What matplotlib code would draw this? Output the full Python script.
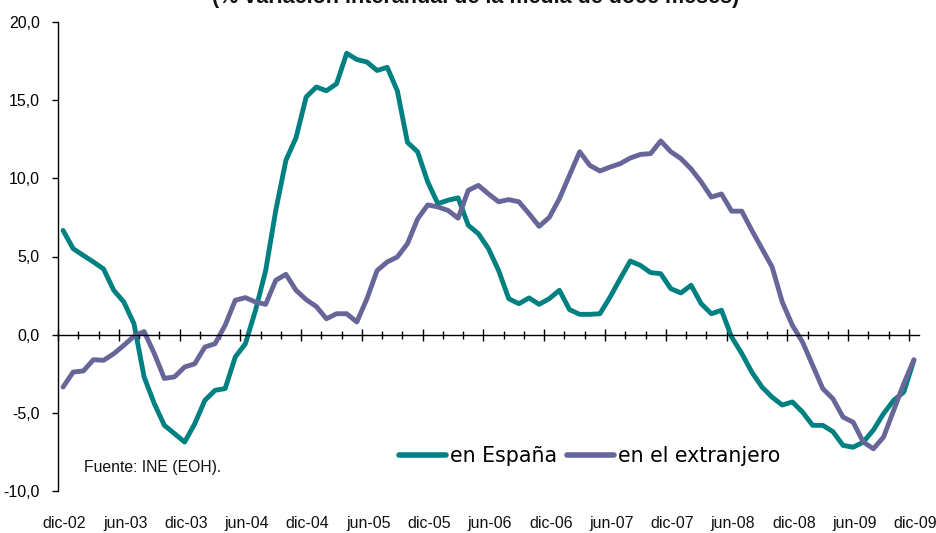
import matplotlib
matplotlib.use("Agg")
import matplotlib.pyplot as plt
import matplotlib.transforms as mtransforms
import numpy as np

# Monthly data dic-02 .. dic-09 (85 months)
espana = [6.67, 5.5, 5.07, 4.65, 4.2, 2.84, 2.09, 0.7, -2.7, -4.4,
          -5.8, -6.33, -6.87, -5.7, -4.2, -3.56, -3.45, -1.43, -0.58, 1.56,
          4.1, 7.95, 11.15, 12.6, 15.2, 15.84, 15.6, 16.05, 18.0, 17.6,
          17.44, 16.9, 17.1, 15.6, 12.3, 11.7, 9.77, 8.38, 8.6, 8.75,
          7.0, 6.46, 5.5, 4.1, 2.3, 1.98, 2.35, 1.94, 2.3, 2.84,
          1.6, 1.3, 1.3, 1.34, 2.4, 3.58, 4.71, 4.43, 3.97, 3.9,
          2.94, 2.67, 3.16, 1.98, 1.34, 1.56, -0.15, -1.2, -2.4, -3.35,
          -4.0, -4.5, -4.3, -4.95, -5.8, -5.8, -6.2, -7.08, -7.2, -6.87,
          -6.1, -5.05, -4.2, -3.67, -1.64]
extranjero = [-3.35, -2.39, -2.32, -1.6, -1.64, -1.22, -0.68, -0.1, 0.2, -1.2,
              -2.8, -2.7, -2.07, -1.86, -0.79, -0.58, 0.6, 2.2, 2.37, 2.09,
              1.94, 3.48, 3.86, 2.84, 2.24, 1.8, 1.02, 1.34, 1.34, 0.81,
              2.3, 4.1, 4.65, 4.97, 5.82, 7.4, 8.3, 8.17, 7.95, 7.45,
              9.23, 9.55, 9.0, 8.5, 8.64, 8.5, 7.74, 6.93, 7.5, 8.7,
              10.2, 11.7, 10.83, 10.47, 10.72, 10.94, 11.3, 11.53, 11.58, 12.39,
              11.7, 11.26, 10.6, 9.77, 8.8, 9.0, 7.9, 7.9, 6.67, 5.5,
              4.33, 2.09, 0.6, -0.47, -1.96, -3.45, -4.1, -5.27, -5.6, -6.87,
              -7.3, -6.55, -4.84, -3.13, -1.6]
xlabels = ["dic-02", "jun-03", "dic-03", "jun-04", "dic-04", "jun-05", "dic-05",
           "jun-06", "dic-06", "jun-07", "dic-07", "jun-08", "dic-08", "jun-09", "dic-09"]
yticks = [-10, -5, 0, 5, 10, 15, 20]
title = "(% variación interanual de la media de doce meses)"
source = "Fuente: INE (EOH)."

teal = "#008080"
purple = "#666699"
sans = ["Liberation Sans", "DejaVu Sans"]

fig = plt.figure(figsize=(9.37, 5.33), dpi=100)
W, H = 937, 533
ax = fig.add_axes([58 / W, (H - 491) / H, 861 / W, 469 / H])

x = np.arange(len(espana))
ax.plot(x, espana, color=teal, lw=3.5, solid_capstyle="round", solid_joinstyle="round",
        label="en España")
ax.plot(x, extranjero, color=purple, lw=3.5, solid_capstyle="round", solid_joinstyle="round",
        label="en el extranjero")

ax.set_xlim(-0.5, len(espana) - 0.5)
ax.set_ylim(-10, 20)

for s in ["top", "right"]:
    ax.spines[s].set_visible(False)
ax.spines["bottom"].set_position(("data", 0))
ax.spines["left"].set_linewidth(1.0)
ax.spines["bottom"].set_linewidth(1.0)

ax.set_yticks(yticks)
ax.set_yticklabels([f"{v:.1f}".replace(".", ",") for v in yticks], fontfamily=sans, fontsize=11.5)
ax.tick_params(axis="y", direction="out", length=4, pad=9, width=1)

ax.set_xticks(np.arange(-0.5, len(espana), 6))
ax.set_xticks(np.arange(-0.5, len(espana), 2), minor=True)
ax.tick_params(axis="x", which="major", direction="inout", length=8, width=1, labelbottom=False)
ax.tick_params(axis="x", which="minor", direction="inout", length=5.5, width=1)

trans = mtransforms.blended_transform_factory(ax.transData, ax.transAxes)
for k, lab in enumerate(xlabels):
    ax.text(k * 6 + 0.15, -0.070, lab, transform=trans, ha="center", va="center",
            fontsize=11.5, fontfamily=sans, color="#111111")

ax.text(0.030, 0.051, source, transform=ax.transAxes, ha="left", va="center",
        fontsize=11.3, fontfamily=sans, color="#111111")

fig.text(0.508, 1 - 3 / H, title, ha="center", va="baseline", fontsize=15.5,
         fontweight="bold", fontfamily=sans, color="#111111")

leg = ax.legend(ncol=2, frameon=False, loc="center left",
                bbox_to_anchor=((399 - 58) / 861, (491 - 456) / 469),
                prop={"family": "DejaVu Sans", "size": 14.8}, handlelength=2.3,
                handletextpad=0.2, columnspacing=0.45, borderaxespad=0, borderpad=0)
for line in leg.get_lines():
    line.set_linewidth(4)
    line.set_solid_capstyle("round")

fig.savefig("out.png", dpi=100)
